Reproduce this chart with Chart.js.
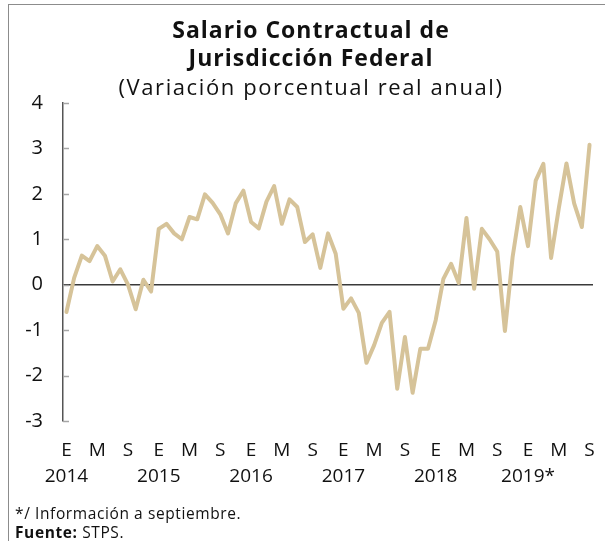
<!DOCTYPE html>
<html lang="es">
<head>
<meta charset="utf-8">
<title>Salario Contractual de Jurisdicción Federal</title>
<script src="https://cdn.jsdelivr.net/npm/chart.js@4/dist/chart.umd.min.js"></script>
<style>
  html, body { margin: 0; padding: 0; background: #fff; overflow: hidden; }
  #wrap { position: relative; width: 605px; height: 541px; font-family: "Open Sans", "Noto Sans", sans-serif; color: #111; }
  #frame { position: absolute; left: 8px; top: 4px; width: 700px; height: 700px; border-top: 1.5px solid #8c8c8c; border-left: 1.5px solid #8c8c8c; }
  #title { position: absolute; left: 0; top: 15px; width: 622px; text-align: center; }
  #title .main { font-weight: 700; font-size: 23px; line-height: 28px; letter-spacing: 1px; }
  #title .sub { font-size: 22px; line-height: 30px; letter-spacing: 1.6px; }
  #notes { position: absolute; left: 15px; top: 504px; font-size: 15.5px; line-height: 19px; letter-spacing: 0.6px; }
  #chartBox { position: absolute; left: 0; top: 0; width: 605px; height: 541px; }
</style>
</head>
<body>
<div id="wrap">
  <div id="frame"></div>
  <div id="chartBox"><canvas id="salarioChart"></canvas></div>
  <div id="title">
    <div class="main">Salario Contractual de<br>Jurisdicción Federal</div>
    <div class="sub">(Variación porcentual real anual)</div>
  </div>
  <div id="notes">
    <div>*/ Información a septiembre.</div>
    <div><b>Fuente:</b> STPS.</div>
  </div>
</div>
<script>
// Variación real anual, mensual, ene-2014 a sep-2019
const v2014 = [-0.60, 0.15, 0.64, 0.52, 0.85, 0.64, 0.07, 0.34, 0.00, -0.54, 0.11, -0.15];
const v2015 = [1.23, 1.34, 1.13, 1.00, 1.49, 1.44, 1.99, 1.80, 1.55, 1.13, 1.79, 2.07];
const v2016 = [1.38, 1.24, 1.83, 2.17, 1.34, 1.88, 1.71, 0.94, 1.11, 0.37, 1.13, 0.68];
const v2017 = [-0.53, -0.30, -0.62, -1.72, -1.33, -0.84, -0.60, -2.29, -1.15, -2.38, -1.41, -1.41];
const v2018 = [-0.78, 0.13, 0.46, 0.04, 1.47, -0.09, 1.23, 1.00, 0.73, -1.02, 0.61, 1.71];
const v2019 = [0.85, 2.29, 2.66, 0.59, 1.68, 2.67, 1.79, 1.27, 3.08];

const years = ['2014', '2015', '2016', '2017', '2018', '2019*'];
const monthLetters = ['E', 'M', 'S'];   // enero, mayo, septiembre
const yTicks = [-3, -2, -1, 0, 1, 2, 3, 4];

const values = [].concat(v2014, v2015, v2016, v2017, v2018, v2019);
const points = values.map((v, i) => ({ x: i, y: v }));

// one tick every 4 months: E, M, S
const xTickIdx = [];
for (let i = 0; i < values.length; i += 4) xTickIdx.push(i);

// short marks on the inner side of the y axis
const innerTicks = {
    id: 'innerTicks',
    beforeDatasetsDraw(chart) {
        const y = chart.scales.y;
        const ctx = chart.ctx;
        ctx.save();
        ctx.strokeStyle = '#a6a6a6';
        ctx.lineWidth = 1.5;
        yTicks.forEach(t => {
            const py = Math.round(y.getPixelForValue(t)) + 0.5;
            ctx.beginPath();
            ctx.moveTo(y.right, py);
            ctx.lineTo(y.right + 6, py);
            ctx.stroke();
        });
        ctx.restore();
    }
};

new Chart(document.getElementById('salarioChart'), {
    type: 'line',
    data: {
        datasets: [{
            data: points,
            borderColor: '#d6c399',
            borderWidth: 4,
            borderJoinStyle: 'round',
            borderCapStyle: 'round',
            pointRadius: 0,
            tension: 0,
            fill: false
        }]
    },
    options: {
        responsive: true,
        maintainAspectRatio: false,
        animation: false,
        layout: { padding: { left: 0, right: 12, top: 103, bottom: 0 } },
        plugins: { legend: { display: false }, tooltip: { enabled: false } },
        scales: {
            x: {
                type: 'linear',
                min: -0.45,
                max: values.length - 1 + 0.45,
                afterBuildTicks: s => { s.ticks = xTickIdx.map(v => ({ value: v })); },
                afterFit: s => { s.height = 120; },
                grid: { display: false },
                border: { display: false },
                ticks: {
                    autoSkip: false,
                    maxRotation: 0,
                    padding: 9,
                    color: '#111',
                    font: { family: '"Open Sans", sans-serif', size: 19, lineHeight: 1.35 },
                    callback: value => {
                        const m = monthLetters[(value % 12) / 4];
                        return value % 12 === 0 ? [m, years[value / 12]] : m;
                    }
                }
            },
            y: {
                min: -3,
                max: 4,
                afterBuildTicks: s => { s.ticks = yTicks.map(v => ({ value: v })); },
                afterFit: s => { s.width = 63; },
                grid: {
                    drawTicks: false,
                    lineWidth: 1.5,
                    color: c => (c.tick && c.tick.value === 0) ? '#3a3a3a' : 'rgba(0,0,0,0)'
                },
                border: { color: '#555', width: 1.5 },
                ticks: {
                    padding: 20,
                    color: '#111',
                    font: { family: '"Open Sans", sans-serif', size: 20 }
                }
            }
        }
    },
    plugins: [innerTicks]
});
</script>
</body>
</html>
